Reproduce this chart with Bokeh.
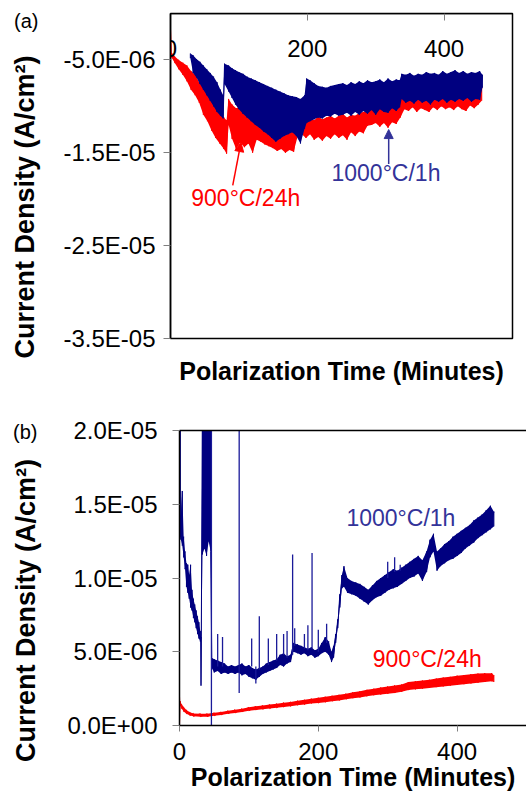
from bokeh.plotting import figure
from bokeh.models import Range1d, FixedTicker, LinearAxis, Label, Arrow, NormalHead
from bokeh.layouts import column
from bokeh.embed import file_html
from bokeh.resources import INLINE

FONT = "Liberation Sans"
RED = "#ff0000"
NAVY = "#000080"
BLUE_TXT = "#333399"
E6 = 1e-6   # data below are in units of 1E-06 A/cm2

# ---------------- panel (a) data ----------------
a_xticks = [0, 200, 400]
a_yticks = [-5e-06, -1.5e-05, -2.5e-05, -3.5e-05]
a_ylabels = ["-5.0E-06", "-1.5E-05", "-2.5E-05", "-3.5E-05"]

a900_t = [0, 2, 6, 12, 18, 24, 30, 36, 42, 48, 54, 60, 66, 72, 78, 82, 85, 90, 96, 102,
          108, 114, 120, 126, 132, 138, 144, 150, 156, 162, 168, 174, 180, 186, 192, 198, 204, 210, 216, 222,
          228, 234, 240, 246, 252, 258, 264, 270, 276, 282, 288, 294, 300, 306, 312, 318, 324, 330, 336, 342,
          348, 354, 360, 366, 372, 378, 384, 390, 396, 402, 408, 414, 420, 426, 432, 438, 444, 450, 455]
a900_hi = [-0.1, -4.3, -4.6, -5.0, -5.3, -5.6, -6.2, -6.6, -7.4, -8.0, -8.8, -9.4, -10.2, -10.8, -11.2, -11.5, -9.2, -9.8, -10.2, -10.0,
           -10.6, -10.9, -11.0, -11.6, -11.8, -12.0, -12.2, -12.4, -12.2, -12.5, -12.3, -12.6, -12.0, -11.0, -11.3, -11.0, -11.2, -11.5, -11.1, -11.4,
           -11.2, -11.0, -11.3, -11.0, -10.8, -11.2, -10.9, -11.0, -10.7, -10.6, -10.4, -10.2, -10.3, -10.0, -9.9, -10.1, -9.8, -9.6, -9.0, -8.8,
           -9.0, -8.6, -8.8, -8.5, -8.7, -8.4, -8.6, -8.3, -8.5, -8.2, -8.4, -8.1, -8.3, -8.0, -8.2, -8.1, -7.9, -8.0, -7.8]
a900_lo = [-4.6, -4.8, -5.3, -6.0, -6.6, -7.3, -8.2, -8.8, -9.6, -10.9, -11.6, -12.6, -13.4, -14.0, -14.6, -15.1, -12.0, -13.5, -14.6, -13.9,
           -14.4, -14.0, -15.0, -13.6, -13.8, -14.1, -14.3, -14.5, -14.8, -14.6, -15.0, -14.7, -14.9, -13.2, -13.0, -13.4, -13.0, -13.6, -13.3, -13.7,
           -13.2, -13.5, -13.0, -13.4, -13.1, -13.6, -12.8, -13.2, -12.7, -12.9, -12.1, -12.0, -11.8, -12.2, -11.8, -12.3, -11.7, -11.9, -11.2, -10.3,
           -10.5, -10.1, -10.6, -10.2, -10.4, -10.6, -10.1, -10.4, -10.0, -10.3, -10.1, -10.4, -10.0, -10.3, -10.5, -9.9, -10.2, -9.8, -9.4]

a1000_t = [29, 33, 38, 43, 48, 53, 58, 63, 68, 73, 77, 79, 85, 90, 95, 100, 106, 112, 118, 124,
           130, 136, 142, 148, 154, 160, 166, 172, 178, 184, 190, 196, 199, 204, 210, 216, 222, 228, 234, 240,
           246, 252, 258, 264, 270, 276, 282, 288, 294, 300, 306, 312, 318, 324, 330, 335, 338, 344, 350, 356,
           362, 368, 374, 380, 386, 392, 398, 404, 410, 416, 422, 428, 434, 440, 446, 452, 456]
a1000_hi = [-4.3, -4.5, -4.9, -5.2, -5.6, -6.0, -6.4, -6.8, -7.4, -8.2, -8.8, -5.4, -5.6, -5.9, -6.1, -6.3, -6.5, -6.8, -7.0, -7.2,
            -7.4, -7.6, -7.8, -8.0, -8.2, -8.4, -8.6, -8.8, -8.9, -9.0, -9.2, -8.8, -7.0, -7.2, -7.5, -7.8, -7.9, -8.0, -7.8, -7.7,
            -7.6, -7.5, -7.7, -7.4, -7.6, -7.3, -7.5, -7.2, -7.4, -7.3, -7.1, -7.4, -7.0, -7.3, -7.1, -7.2, -6.5, -6.6, -6.4, -6.7,
            -6.5, -6.6, -6.3, -6.5, -6.4, -6.6, -6.2, -6.5, -6.3, -6.1, -6.4, -6.2, -6.5, -6.3, -6.4, -6.2, -6.6]
a1000_lo = [-4.8, -6.4, -6.9, -7.6, -8.2, -8.8, -9.4, -10.0, -10.6, -11.0, -11.3, -7.6, -8.4, -9.1, -9.8, -10.3, -10.8, -11.2, -11.6, -12.0,
            -12.3, -12.7, -13.0, -13.4, -13.8, -13.5, -13.2, -13.0, -12.8, -13.2, -14.0, -12.4, -11.8, -11.6, -11.4, -11.2, -11.3, -11.0, -11.1, -10.8,
            -11.0, -10.9, -10.7, -11.0, -10.6, -10.9, -10.5, -10.8, -10.4, -10.9, -10.3, -10.6, -10.7, -10.2, -10.5, -10.1, -9.2, -9.6, -9.4, -9.7,
            -9.3, -9.6, -9.4, -9.8, -9.3, -9.5, -9.2, -9.6, -9.3, -9.5, -9.2, -9.4, -9.1, -9.5, -9.2, -9.3, -8.0]

# ---------------- panel (b) data ----------------
b_xticks = [0, 200, 400]
b_yticks = [0.0, 5e-06, 1e-05, 1.5e-05, 2e-05]
b_ylabels = ["0.0E+00", "5.0E-06", "1.0E-05", "1.5E-05", "2.0E-05"]

b1000_t = [0, 1, 2, 4, 6, 8, 10, 12, 14, 16, 18, 20, 22, 24, 26, 28, 30, 31, 33, 36,
           39, 42, 45, 46.5, 50, 55, 60, 65, 70, 75, 80, 85, 90, 95, 100, 105, 110, 115, 120, 125,
           130, 135, 140, 145, 150, 155, 160, 164, 170, 175, 180, 185, 190, 195, 200, 205, 210, 215, 219, 222,
           225, 228, 231, 234, 237, 242, 248, 254, 260, 266, 272, 278, 284, 290, 296, 302, 308, 314, 320, 326,
           332, 338, 344, 350, 356, 361, 366, 371, 376, 382, 388, 394, 400, 406, 412, 418, 424, 430, 436, 442,
           448, 453]
b1000_lo = [13.5, 12.8, 12.6, 12.2, 11.4, 10.6, 9.4, 9.0, 8.6, 8.0, 7.8, 7.3, 7.0, 6.6, 6.2, 5.9, 5.7, 2.7, 11.6, 12.0,
            11.5, 12.5, 11.8, 3.9, 3.6, 3.7, 3.5, 3.6, 3.5, 3.6, 3.5, 3.6, 3.4, 3.5, 3.3, 3.2, 3.1, 3.3, 3.5, 3.6,
            3.7, 3.8, 3.9, 4.1, 4.0, 4.2, 4.3, 5.0, 4.9, 4.8, 4.9, 4.7, 4.8, 4.6, 4.7, 4.9, 5.0, 4.8, 4.3, 4.6,
            5.6, 6.6, 8.0, 9.3, 9.4, 9.0, 8.9, 8.8, 8.6, 8.4, 8.2, 8.5, 8.7, 8.8, 9.0, 9.2, 9.3, 9.4, 9.6, 9.8,
            10.0, 10.1, 10.3, 9.8, 10.4, 11.4, 11.8, 10.5, 10.8, 11.0, 11.2, 11.3, 11.5, 11.7, 12.0, 12.2, 12.4, 12.7, 12.9, 13.1,
            13.3, 13.5]
b1000_hi = [20.5, 20.5, 14.2, 15.9, 12.8, 11.8, 11.0, 10.9, 10.2, 10.9, 9.2, 8.6, 8.2, 7.8, 7.4, 7.0, 6.4, 6.0, 20.5, 20.5,
            20.5, 20.5, 20.5, 4.6, 4.5, 4.4, 4.3, 4.2, 4.0, 4.1, 4.0, 4.1, 4.2, 4.0, 4.1, 3.9, 3.8, 3.9, 4.0, 4.2,
            4.3, 4.4, 4.5, 4.8, 4.9, 4.7, 4.8, 5.6, 5.5, 5.4, 5.3, 5.2, 5.3, 5.1, 5.2, 5.6, 6.0, 5.7, 5.0, 5.4,
            6.2, 7.2, 8.9, 10.2, 10.8, 10.0, 9.8, 9.7, 9.6, 9.4, 9.2, 9.5, 9.8, 10.0, 10.2, 10.4, 10.6, 10.5, 10.7, 10.9,
            11.1, 11.3, 11.5, 11.2, 11.8, 12.6, 13.0, 11.8, 12.0, 12.3, 12.5, 12.8, 13.0, 13.2, 13.4, 13.6, 13.9, 14.1, 14.3, 14.6,
            14.9, 14.5]
b1000_spike_t = [46, 55, 62, 86, 104, 110, 115, 128, 140, 150, 155, 163, 166, 180, 185, 191, 200, 212, 300, 310, 318]
b1000_spike_lo = [0.0, 4.0, 4.0, 2.2, 4.0, 2.85, 3.8, 4.1, 4.4, 4.8, 4.6, 4.8, 5.4, 5.2, 5.1, 5.2, 5.0, 5.6, 10.0, 10.4, 10.5]
b1000_spike_hi = [20.5, 6.2, 6.0, 20.5, 5.9, 4.0, 7.4, 5.9, 6.2, 6.2, 6.4, 11.6, 6.6, 6.2, 6.8, 11.7, 6.5, 6.9, 11.1, 11.4, 10.9]

b900_t = [0, 1, 3, 6, 10, 15, 20, 30, 40, 50, 60, 70, 80, 90, 100, 110, 120, 130, 140, 150,
          160, 170, 180, 190, 200, 210, 220, 230, 240, 250, 260, 270, 280, 290, 300, 310, 320, 330, 340, 350,
          360, 370, 380, 390, 400, 410, 420, 430, 440, 450, 453]
b900_lo = [0.0, 1.35, 1.15, 0.95, 0.8, 0.68, 0.62, 0.6, 0.6, 0.66, 0.72, 0.8, 0.85, 0.92, 1.0, 1.05, 1.1, 1.15, 1.2, 1.25,
           1.3, 1.38, 1.42, 1.5, 1.52, 1.58, 1.65, 1.7, 1.78, 1.85, 1.9, 1.98, 2.05, 2.1, 2.15, 2.2, 2.28, 2.4, 2.45, 2.5,
           2.55, 2.6, 2.65, 2.7, 2.75, 2.8, 2.85, 2.9, 2.95, 3.0, 2.95]
b900_hi = [3.0, 1.65, 1.45, 1.25, 1.05, 0.9, 0.82, 0.8, 0.8, 0.86, 0.92, 1.0, 1.07, 1.14, 1.24, 1.3, 1.36, 1.42, 1.48, 1.55,
           1.6, 1.68, 1.74, 1.82, 1.88, 1.95, 2.02, 2.08, 2.16, 2.25, 2.32, 2.42, 2.5, 2.58, 2.65, 2.72, 2.78, 2.95, 3.0, 3.05,
           3.1, 3.18, 3.25, 3.3, 3.38, 3.42, 3.48, 3.52, 3.55, 3.55, 3.4]

series_names = ["900°C/24h", "1000°C/1h"]
panel_tags = ["(a)", "(b)"]
y_title = "Current Density (A/cm²)"
x_title = "Polarization Time (Minutes)"

# ---------------- layout constants (pixels) ----------------
W = 526
HA, HB = 395, 402
X_MAX = 500
A_Y0, A_Y1 = -35e-6, 0.0
B_Y0, B_Y1 = 0.0, 20e-6


def sc(vals):
    return [v * E6 for v in vals]


def band(p, t, lo, hi, color, width=1.0):
    """Noisy trace drawn as its read min/max envelope plus vertical strokes."""
    lo_s, hi_s = sc(lo), sc(hi)
    p.varea(x=t, y1=lo_s, y2=hi_s, fill_color=color, fill_alpha=1.0)
    xs, ys = [], []
    for ti, l, h in zip(t, lo_s, hi_s):
        xs += [ti, ti]
        ys += [h, l]
    p.line(xs, ys, line_color=color, line_width=width)


def style_axis(ax):
    ax.major_label_text_font = FONT
    ax.major_label_text_font_size = "24px"
    ax.major_label_text_color = "black"
    ax.major_tick_line_color = "#808080"
    ax.major_tick_line_width = 1
    ax.minor_tick_line_color = None
    ax.axis_line_color = "black"
    ax.axis_line_width = 1.5
    ax.axis_label_text_font = FONT
    ax.axis_label_text_font_style = "bold"
    ax.axis_label_text_font_size = "25px"
    ax.axis_label_text_color = "black"


def bare(ax, line=False):
    ax.major_tick_out = 0
    ax.major_tick_in = 0
    ax.major_label_standoff = 0
    if not line:
        ax.axis_line_color = None


def no_frame_align(p):
    try:
        p.frame_align = False
    except AttributeError:
        pass


def side_texts(p, tag, tag_y, tag_standoff, title_y, title_standoff):
    # helper axis next to the tick labels: the rotated y title is its only tick label
    t_ax = LinearAxis(ticker=FixedTicker(ticks=[title_y]))
    style_axis(t_ax)
    bare(t_ax)
    t_ax.major_label_overrides = {title_y: y_title}
    t_ax.major_label_orientation = "vertical"
    t_ax.major_label_text_font_style = "bold"
    t_ax.major_label_text_font_size = "27px"
    t_ax.major_label_standoff = title_standoff
    p.add_layout(t_ax, "left")
    # outer helper axis: the panel tag is its only tick label
    tag_ax = LinearAxis(ticker=FixedTicker(ticks=[tag_y]))
    style_axis(tag_ax)
    bare(tag_ax)
    tag_ax.major_label_overrides = {tag_y: tag}
    tag_ax.major_label_text_font_size = "20px"
    tag_ax.major_label_standoff = tag_standoff
    p.add_layout(tag_ax, "left")


def series_label(p, text, x, y, color):
    p.add_layout(Label(x=x, y=y, text=text, text_font=FONT, text_font_size="23px",
                       text_align="center", text_baseline="middle", text_color=color))


def main_yaxis(p, ticks, labels, standoff):
    ax = p.yaxis[0]
    style_axis(ax)
    ax.ticker = FixedTicker(ticks=ticks)
    ax.major_label_overrides = dict(zip(ticks, labels))
    ax.major_tick_out = 7
    ax.major_tick_in = 0
    ax.major_label_standoff = standoff
    return ax


# ================= panel (a) =================
pa = figure(width=W, height=HA, output_backend="svg", toolbar_location=None,
            x_range=Range1d(0, X_MAX), y_range=Range1d(A_Y0, A_Y1),
            min_border_left=170, min_border_right=14, min_border_top=13, min_border_bottom=57)
no_frame_align(pa)
pa.grid.visible = False
pa.outline_line_color = "black"
pa.outline_line_width = 1.5
pa.outline_line_alpha = 1.0

band(pa, a900_t, a900_lo, a900_hi, RED)
band(pa, a1000_t, a1000_lo, a1000_hi, NAVY)

main_yaxis(pa, a_yticks, a_ylabels, 8)

xa = pa.xaxis[0]
style_axis(xa)
xa.ticker = FixedTicker(ticks=[])
bare(xa)
xa.axis_label = x_title
xa.axis_label_standoff = 18

xa_top = LinearAxis(fixed_location=A_Y1, ticker=FixedTicker(ticks=a_xticks))
style_axis(xa_top)
xa_top.major_tick_out = 7
xa_top.major_tick_in = 0
xa_top.major_label_standoff = 19
pa.add_layout(xa_top, "below")

series_label(pa, series_names[0], 110, -19.9e-6, RED)
series_label(pa, series_names[1], 315, -17.15e-6, BLUE_TXT)
pa.add_layout(Arrow(x_start=91, y_start=-18.5e-6, x_end=103, y_end=-13.9e-6,
                    line_color=RED, line_width=1.5,
                    end=NormalHead(size=9, fill_color=RED, line_color=RED)))
pa.add_layout(Arrow(x_start=319, y_start=-16.2e-6, x_end=319, y_end=-12.5e-6,
                    line_color=BLUE_TXT, line_width=1.5,
                    end=NormalHead(size=9, fill_color=BLUE_TXT, line_color=BLUE_TXT)))

side_texts(pa, panel_tags[0], -0.86e-6, -31, -20.84e-6, 20)

# ================= panel (b) =================
pb = figure(width=W, height=HB, output_backend="svg", toolbar_location=None,
            x_range=Range1d(0, X_MAX), y_range=Range1d(B_Y0, B_Y1),
            min_border_left=179, min_border_right=0, min_border_top=35, min_border_bottom=72)
no_frame_align(pb)
pb.grid.visible = False
pb.outline_line_color = None

band(pb, b900_t, b900_lo, b900_hi, RED)
band(pb, b1000_t, b1000_lo, b1000_hi, NAVY)
pb.segment(x0=b1000_spike_t, y0=sc(b1000_spike_lo), x1=b1000_spike_t, y1=sc(b1000_spike_hi),
           line_color="#1a1a99", line_width=1.3)

main_yaxis(pb, b_yticks, b_ylabels, 15)

xb = pb.xaxis[0]
style_axis(xb)
xb.ticker = FixedTicker(ticks=b_xticks)
xb.major_tick_out = 6
xb.major_tick_in = 0
xb.major_label_standoff = 11
xb.axis_label = x_title
xb.axis_label_standoff = 0

top_b = LinearAxis(ticker=FixedTicker(ticks=[]))
style_axis(top_b)
bare(top_b, line=True)
pb.add_layout(top_b, "above")

series_label(pb, series_names[1], 319, 14.06e-6, BLUE_TXT)
series_label(pb, series_names[0], 357, 4.53e-6, RED)

side_texts(pb, panel_tags[1], 19.93e-6, -29, 7.8e-6, 23)

layout = column(pa, pb)
open("out.html", "w").write(file_html(layout, INLINE))
